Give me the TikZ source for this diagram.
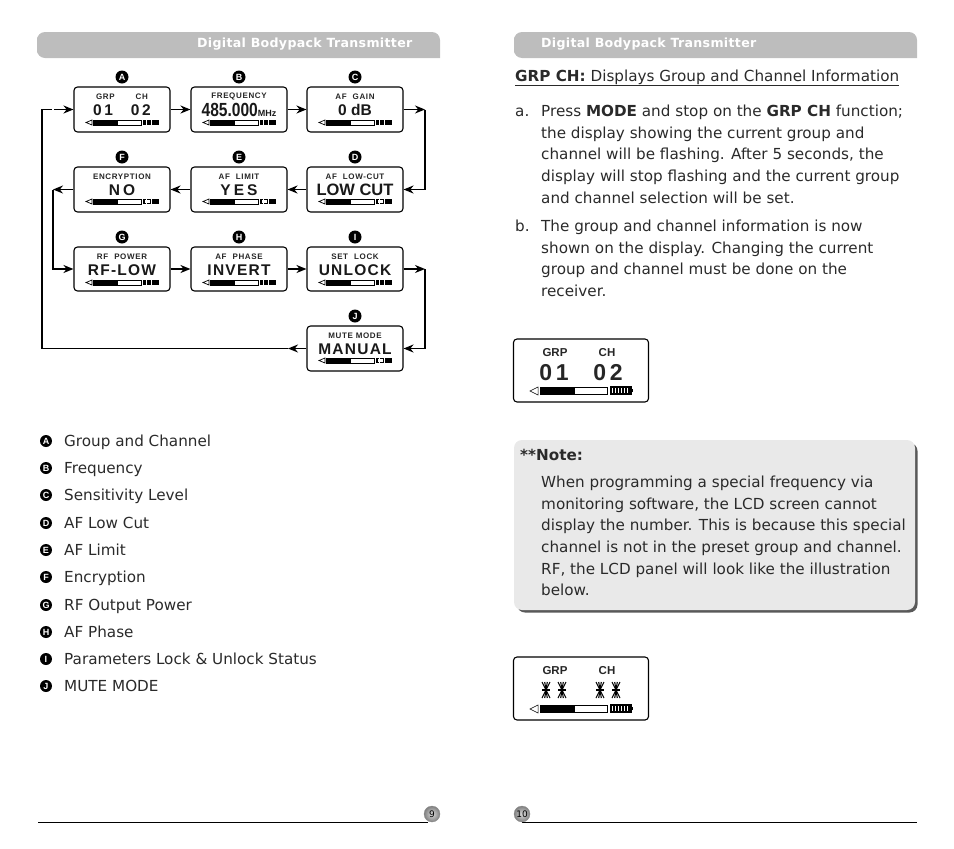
\documentclass[tikz,border=0pt]{standalone}
\usepackage{fontspec}
\setmainfont{DejaVu Sans}
\newfontfamily\lcdfont{Liberation Sans}
\newfontfamily\lcdwide[LetterSpace=8]{Liberation Sans}
\newfontfamily\bandfont[LetterSpace=2.5]{DejaVu Sans}
\usetikzlibrary{positioning,shadings,arrows.meta}

\definecolor{bandgray}{HTML}{BDBDBD}
\definecolor{notegray}{HTML}{E9E9E9}
\definecolor{inktext}{HTML}{2A2A2A}

% small panel of the flow chart: name, left, top, height, bar offset, title, value
\newcommand{\lcdpanel}[7]{
	\node[panel, minimum height=#4pt] at (#2+48,#3+#4/2) (#1) {};
	\node[paneltitle] at (#2+48,#3+9.5) (#1title) {#6};
	\node[panelvalue] at (#2+48,#3+23) (#1value) {#7};
	\node[badge] at (#2+48,#3-10) (#1badge) {\MakeUppercase{#1}};
	\draw[line width=.7pt] (#2+18,#3+#5) -- (#2+12,#3+#5+2.5) -- (#2+18,#3+#5+5) -- cycle;
	\draw[line width=.7pt] (#2+19,#3+#5) rectangle (#2+67,#3+#5+5);
	\fill (#2+19,#3+#5) rectangle (#2+44,#3+#5+5);
	\fill (#2+69,#3+#5-.3) rectangle (#2+85,#3+#5+5.3);
	\draw[white,line width=.5pt] (#2+72,#3+#5) -- (#2+72,#3+#5+5);
	\draw[white,line width=.5pt] (#2+77,#3+#5) -- (#2+77,#3+#5+5);
}
% large panel: name, top
\newcommand{\bigpanel}[2]{
	\node[panel, minimum width=135pt, minimum height=63pt] at (581,#2+31.5) (#1) {};
	\node[bigtitle] at (555,#2+13.5) (#1grp) {GRP};
	\node[bigtitle] at (607,#2+13.5) (#1ch) {CH};
	\draw[line width=.5pt] (538,#2+48) -- (530,#2+52) -- (538,#2+56) -- cycle;
	\draw[line width=.7pt] (540,#2+48) rectangle (607,#2+55);
	\fill (540,#2+48) rectangle (575,#2+55);
	\draw[line width=1.2pt] (611,#2+48) rectangle (631,#2+55);
	\fill (631,#2+50) rectangle (633,#2+53);
	\foreach \tick in {614,617,620,623,626,629}
		\draw[line width=1.1pt] (\tick,#2+48) -- (\tick,#2+55);
}
% all segments on
\newcommand{\stardigit}[2]{
	\foreach \dx in {-4,-1.3,1.3,4} {
		\draw[line width=1.1pt] (#1,#2) -- (#1+\dx,#2-8);
		\draw[line width=1.1pt] (#1,#2) -- (#1+\dx,#2+8);
	}
	\draw[line width=1.1pt] (#1-4,#2) -- (#1+4,#2);
}

\begin{document}
\begin{tikzpicture}[x=1pt, y=-1pt, line join=miter, >={Stealth[length=10pt,width=8pt]}]
	\tikzset{
		panel/.style={draw, rounded corners=3.5pt, line width=1.1pt, minimum width=96pt, minimum height=45pt},
		paneltitle/.style={font=\lcdwide\bfseries\fontsize{8}{9}\selectfont, inner sep=0pt, text=black!85},
		panelvalue/.style={font=\lcdwide\bfseries\fontsize{15.5}{16}\selectfont, inner sep=0pt, text=black!90},
		bigtitle/.style={font=\lcdfont\bfseries\fontsize{11.5}{12}\selectfont, inner sep=0pt, text=black!85},
		bigvalue/.style={font=\lcdfont\bfseries\fontsize{23}{24}\selectfont, inner sep=0pt, text=black!85},
		badge/.style={circle, fill=black, text=white, inner sep=0pt, minimum size=13pt, font=\lcdfont\bfseries\fontsize{9}{10}\selectfont},
		flow/.style={line width=1.8pt, ->},
		bandtext/.style={font=\bandfont\bfseries\fontsize{12.6}{14}\selectfont, text=white, anchor=base west, inner sep=0pt},
		body/.style={font=\fontsize{15.2}{21.7}\selectfont, text=inktext, anchor=north west, inner sep=0pt, align=left},
		listtext/.style={font=\fontsize{15.2}{17}\selectfont, text=inktext, anchor=base west, inner sep=0pt},
		pagemark/.style={circle, draw=black!45, line width=.3pt, inner color=black!15, outer color=black!50, minimum size=16pt, inner sep=0pt, font=\fontsize{9}{10}\selectfont}
	}
	\useasboundingbox (0,0) rectangle (954,849);

	% headers
	\fill[bandgray, rounded corners=8pt] (37,45) -- (37,32) -- (440,32) [sharp corners] -- (440,58) [rounded corners=8pt] -- (37,58) -- cycle;
	\fill[bandgray, rounded corners=8pt] (514,45) -- (514,32) -- (917,32) [sharp corners] -- (917,58) [rounded corners=8pt] -- (514,58) -- cycle;
	\node[bandtext] at (197,47.5) (headleft) {Digital Bodypack Transmitter};
	\node[bandtext] at (541,47.5) (headright) {Digital Bodypack Transmitter};

	% panels
	\lcdpanel{a}{74}{87}{45}{33}{GRP\hspace{21pt}CH}{0\,1\hspace{18pt}0\,2}
	\lcdpanel{b}{191}{87}{45}{33}{FREQUENCY}{\lcdfont\scalebox{.82}[1]{\fontsize{19}{20}\selectfont 485.000}{\fontsize{9}{10}\selectfont MHz}}
	\lcdpanel{c}{307}{87}{45}{33}{AF\hspace{6pt}GAIN}{\lcdfont 0 dB}
	\lcdpanel{d}{307}{167}{45}{32}{AF\hspace{6pt}LOW-CUT}{\lcdfont\fontsize{16.5}{17}\selectfont LOW CUT}
	\lcdpanel{e}{191}{167}{45}{32}{AF\hspace{6pt}LIMIT}{Y\hspace{3pt}E\hspace{3pt}S}
	\lcdpanel{f}{74}{167}{45}{32}{ENCRYPTION}{N\hspace{3pt}O}
	\lcdpanel{g}{74}{247}{44}{33}{RF\hspace{6pt}POWER}{RF-LOW}
	\lcdpanel{h}{191}{247}{44}{33}{AF\hspace{6pt}PHASE}{INVERT}
	\lcdpanel{i}{307}{247}{44}{33}{SET\hspace{6pt}LOCK}{UNLOCK}
	\lcdpanel{j}{307}{326}{45}{32}{MUTE MODE}{MANUAL}
	\foreach \px/\py in {307/199, 191/199, 74/199, 307/358}
		\fill[white] (\px+70.5,\py+1) rectangle (\px+76,\py+4);

	% connectors
	\coordinate (cturn) at (425,109.5);
	\coordinate (iturn) at (425,269);
	\coordinate (fturn) at (53,189.5);
	\coordinate (jturn) at (288,348.5);
	\coordinate (backcorner) at (42,109.5);
	\coordinate (backend) at (52,109.5);
	\coordinate (backstart) at (54,109.5);
	\draw[flow] (a) -- (b);
	\draw[flow] (b) -- (c);
	\draw[flow] (c) -- (cturn);
	\draw[flow] (cturn) |- (d);
	\draw[flow] (d) -- (e);
	\draw[flow] (e) -- (f);
	\draw[flow] (f) -- (fturn);
	\draw[flow] (fturn) |- (g);
	\draw[flow] (g) -- (h);
	\draw[flow] (h) -- (i);
	\draw[flow] (i) -- (iturn);
	\draw[flow] (iturn) |- (j);
	\draw[flow] (j) -- (jturn);
	\draw[line width=1.8pt] (jturn) -| (backcorner) -- (backend);
	\draw[flow] (backstart) -- (a);

	% legend
	\foreach \letter/\ypos/\what in {A/441/Group and Channel, B/468/Frequency, C/495/Sensitivity Level, D/523/AF Low Cut, E/550/AF Limit, F/577/Encryption, G/605/RF Output Power, H/632/AF Phase, I/659/Parameters Lock \& Unlock Status, J/686/MUTE MODE} {
		\node[badge, minimum size=12pt] at (46,\ypos) (key\letter) {\letter};
		\node[listtext] at (64,\ypos+5) (item\letter) {\what};
	}

	% right page
	\node[body, anchor=base west] at (515,81) (grpline) {\underline{\textbf{GRP CH:} Displays Group and Channel Information}};
	\node[body] at (515,101) (marka) {\strut a.};
	\node[body] at (541,101) (parta) {\strut Press \textbf{MODE} and stop on the \textbf{GRP CH} function;\\the display showing the current group and\\channel will be flashing. After 5 seconds, the\\display will stop flashing and the current group\\and channel selection will be set.};
	\node[body] at (515,216) (markb) {\strut b.};
	\node[body] at (541,216) (partb) {\strut The group and channel information is now\\shown on the display. Changing the current\\group and channel must be done on the\\receiver.};

	\bigpanel{top}{339}
	\node[bigvalue] at (554,373) (topgrp) {0\,1};
	\node[bigvalue] at (608,373) (topch) {0\,2};

	% note
	\fill[black!65, rounded corners=8pt] (517,443) rectangle (917.5,612.5);
	\fill[notegray, rounded corners=8pt] (514,440) rectangle (915,610);
	\node[body, anchor=base west] at (520,460) (notehead) {\textbf{**Note:}};
	\node[body] at (541,472) (notetext) {\strut When programming a special frequency via\\monitoring software, the LCD screen cannot\\display the number. This is because this special\\channel is not in the preset group and channel.\\RF, the LCD panel will look like the illustration\\below.};

	\bigpanel{low}{657}
	\foreach \xpos in {546,562,600,616}
		\stardigit{\xpos}{690};

	% footer
	\draw[line width=.9pt] (38,822) -- (428,822);
	\draw[line width=.9pt] (522,822) -- (917,822);
	\node[pagemark] at (432,814) (pageleft) {9};
	\node[pagemark] at (522,814) (pageright) {10};
\end{tikzpicture}
\end{document}
